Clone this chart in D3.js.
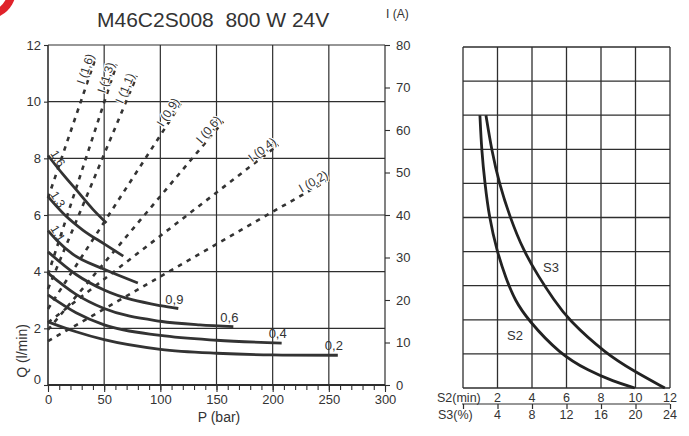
<!DOCTYPE html>
<html><head><meta charset="utf-8">
<script src="https://cdn.jsdelivr.net/npm/d3@7"></script>
<style>body{margin:0;background:#fff}svg{display:block;font-family:"Liberation Sans",Arial,sans-serif}</style>
</head><body><svg id="c" width="689" height="436"></svg>
<script>
// ---------- data ----------
const pTicks = [0, 50, 100, 150, 200, 250, 300];
const pMinor = [0,10,20,30,40,50,60,70,80,90,100,110,120,130,140,150,160,170,180,190,200,210,220,230,240,250,260,270,280,290,300];
const qTicks = [0, 2, 4, 6, 8, 10, 12];
const iTicks = [0, 10, 20, 30, 40, 50, 60, 70, 80];
const openings = ["1,6", "1,3", "1,1", "0,9", "0,6", "0,4", "0,2"];
// Q (l/min) vs P (bar)
const flow_1_6 = [[0,8.1],[13,7.45],[26,6.85],[40,6.2],[52,5.72]];
const flow_1_3 = [[0,6.65],[15,6.0],[31,5.47],[50,4.98],[67,4.55]];
const flow_1_1 = [[0,5.45],[8,5.1],[22,4.62],[49,4.1],[80,3.6]];
const flow_0_9 = [[0,4.7],[25,3.9],[50,3.35],[100,2.8],[116,2.7]];
const flow_0_6 = [[0,3.95],[25,3.2],[50,2.7],[100,2.25],[135,2.12],[165,2.06]];
const flow_0_4 = [[0,3.18],[25,2.55],[50,2.12],[100,1.75],[150,1.58],[208,1.48]];
const flow_0_2 = [[0,2.23],[25,1.88],[50,1.6],[100,1.26],[150,1.12],[200,1.06],[258,1.05]];
// I (A) vs P (bar)
const current_1_6 = [[0,44],[43,77.4]];
const current_1_3 = [[0,26],[61,75.4]];
const current_1_1 = [[0,22.6],[79,72.7]];
const current_0_9 = [[0,17.9],[119,66.5]];
const current_0_6 = [[0,13],[156,62]];
const current_0_4 = [[0,14.7],[205,56.5]];
const current_0_2 = [[0,10.3],[251,48.5]];
// duty chart
const s2Ticks = [0, 2, 4, 6, 8, 10, 12];
const s3Ticks = [0, 4, 8, 12, 16, 20, 24];
const dutyRows = [0,1,2,3,4,5,6,7,8,9,10];
const s2Min = [0.98,1.08,1.27,1.52,1.95,2.5,3.01,3.76,5.6,7.3,8.7,9.96];
const s2Row = [8,6.97,5.99,5.01,4.04,3.2,2.57,2.0,1.0,0.5,0.2,0];
const s3Min = [1.33,1.66,2.1,2.72,3.49,4.4,5.25,6.1,8.3,9.9,11.7];
const s3Row = [8,6.97,5.99,5.01,4.04,3.25,2.6,2.0,1.0,0.5,0];

const flows = [flow_1_6, flow_1_3, flow_1_1, flow_0_9, flow_0_6, flow_0_4, flow_0_2];
const currents = [current_1_6, current_1_3, current_1_1, current_0_9, current_0_6, current_0_4, current_0_2];

// ---------- drawing ----------
const ink = "#2e2e2e";
const svg = d3.select("#c");

// logo arc
svg.append("path")
  .attr("transform", "translate(-13,-10)")
  .attr("d", d3.arc()({innerRadius: 21, outerRadius: 29, startAngle: Math.PI/3, endAngle: Math.PI}))
  .attr("fill", "#e0222a");

// title
svg.append("text").attr("x", 97).attr("y", 27).attr("font-size", 21).attr("fill", "#333")
  .style("white-space", "pre").attr("xml:space", "preserve")
  .text("M46C2S008  800 W 24V");
svg.append("text").attr("x", 386).attr("y", 18).attr("font-size", 12).attr("fill", "#333").text("I (A)");

const x = d3.scaleLinear().domain([0, 300]).range([48, 385]);
const y = d3.scaleLinear().domain([0, 12]).range([385, 45]);
const yI = d3.scaleLinear().domain([0, 80]).range([385, 45]);

const g = svg.append("g");
// grid
g.selectAll(".gv").data(pTicks).join("line")
  .attr("x1", d => x(d)).attr("x2", d => x(d)).attr("y1", y(12)).attr("y2", y(0))
  .attr("stroke", ink).attr("stroke-width", d => (d === 0 ? 1.6 : 1.2));
g.selectAll(".gh").data(qTicks).join("line")
  .attr("x1", x(0)).attr("x2", x(300)).attr("y1", d => y(d)).attr("y2", d => y(d))
  .attr("stroke", ink).attr("stroke-width", d => (d === 0 ? 1.8 : 1.2));

// axes
function styleAxis(sel) {
  sel.select(".domain").remove();
  sel.selectAll("line").attr("stroke", ink).attr("stroke-width", 1.1);
  sel.selectAll("text").attr("fill", "#333").attr("font-size", 13).attr("font-family", "Liberation Sans, Arial, sans-serif");
}
g.append("g").attr("transform", `translate(0,${y(0)})`)
  .call(d3.axisBottom(x).tickValues(pMinor).tickSize(5).tickFormat(""))
  .call(styleAxis);
g.append("g").attr("transform", `translate(0,${y(0)})`)
  .call(d3.axisBottom(x).tickValues(pTicks).tickSize(7).tickPadding(3).tickFormat(d3.format("d")))
  .call(styleAxis);
const ya = g.append("g").attr("transform", `translate(${x(0)},0)`)
  .call(d3.axisLeft(y).tickValues(qTicks).tickSize(4).tickPadding(3).tickFormat(d3.format("d")))
  .call(styleAxis);
ya.selectAll(".tick").filter(d => d === 0).select("text").attr("dy", "-0.1em");
g.append("g").attr("transform", `translate(${x(300)},0)`)
  .call(d3.axisRight(yI).tickValues(iTicks).tickSize(5).tickPadding(6).tickFormat(d3.format("d")))
  .call(styleAxis);

// axis titles
svg.append("text").attr("transform", `translate(27,351) rotate(-90)`).attr("text-anchor", "middle")
  .attr("font-size", 14).attr("fill", "#333").text("Q (l/min)");
svg.append("text").attr("x", 219).attr("y", 422).attr("text-anchor", "middle")
  .attr("font-size", 14).attr("fill", "#333").text("P (bar)");

// dashed current lines
const lineI = d3.line().x(d => x(d[0])).y(d => yI(d[1]));
currents.forEach((c, i) => {
  g.append("path").attr("d", lineI(c)).attr("fill", "none").attr("stroke", "#333")
    .attr("stroke-width", 2.6).attr("stroke-dasharray", "4.5,5.5");
});
currents.forEach((c, i) => {
  const a = c[0], b = c[c.length - 1];
  const x1 = x(a[0]), y1 = yI(a[1]), x2 = x(b[0]), y2 = yI(b[1]);
  const ang = Math.atan2(y2 - y1, x2 - x1) * 180 / Math.PI;
  svg.append("text").attr("transform", `translate(${x2},${y2}) rotate(${ang})`)
    .attr("text-anchor", "end").attr("dy", -2).attr("font-size", 12).attr("fill", "#333")
    .attr("stroke", "#fff").attr("stroke-width", 2).attr("paint-order", "stroke")
    .text("I (" + openings[i] + ")");
});

// solid flow curves
const lineQ = d3.line().x(d => x(d[0])).y(d => y(d[1])).curve(d3.curveMonotoneX);
flows.forEach(f => {
  g.append("path").attr("d", lineQ(f)).attr("fill", "none").attr("stroke", "#333")
    .attr("stroke-width", 2.8).attr("stroke-linecap", "butt");
});
flows.forEach((f, i) => {
  if (i < 3) {
    const s = f[0];
    svg.append("text").attr("transform", `translate(${x(s[0]) + 2},${y(s[1]) - 2}) rotate(58)`)
      .attr("font-size", 12).attr("fill", "#333").text(openings[i]);
  } else {
    const e = f[f.length - 1];
    svg.append("text").attr("x", x(e[0]) - 13).attr("y", y(e[1]) - 5)
      .attr("font-size", 13).attr("fill", "#333").text(openings[i]);
  }
});

// ---------- duty chart ----------
const xs = d3.scaleLinear().domain([0, 12]).range([463, 670]);
const xs3 = d3.scaleLinear().domain([0, 24]).range([463, 670]);
const yr = d3.scaleLinear().domain([0, 10]).range([388, 47]);
const r = svg.append("g");
r.selectAll(".v").data(s2Ticks).join("line")
  .attr("x1", d => xs(d)).attr("x2", d => xs(d)).attr("y1", yr(10)).attr("y2", yr(0))
  .attr("stroke", ink).attr("stroke-width", 1.3);
r.selectAll(".h").data(dutyRows).join("line")
  .attr("x1", xs(0)).attr("x2", xs(12)).attr("y1", d => yr(d)).attr("y2", d => yr(d))
  .attr("stroke", ink).attr("stroke-width", 1.3);
const lineD = d3.line().x(d => xs(d[0])).y(d => yr(d[1])).curve(d3.curveBasis);
r.append("path").attr("d", lineD(s2Min.map((m, i) => [m, s2Row[i]]))).attr("fill", "none")
  .attr("stroke", "#222").attr("stroke-width", 2.8);
r.append("path").attr("d", lineD(s3Min.map((m, i) => [m, s3Row[i]]))).attr("fill", "none")
  .attr("stroke", "#222").attr("stroke-width", 2.8);
r.append("text").attr("x", 543).attr("y", 272).attr("font-size", 13).attr("fill", "#333").text("S3");
r.append("text").attr("x", 507).attr("y", 340).attr("font-size", 13).attr("fill", "#333").text("S2");

// dual bottom axis
const axY = 404;
const ax = r.append("g").attr("transform", `translate(0,${axY})`)
  .call(d3.axisBottom(xs).tickValues(s2Ticks).tickSize(5).tickFormat(""));
ax.select(".domain").attr("stroke", ink).attr("stroke-width", 1.2).attr("d", `M${xs(0) - 1},0H${xs(12)}`);
ax.selectAll("line").attr("stroke", ink).attr("stroke-width", 1.2);
r.selectAll(".s2l").data(s2Ticks.filter(d => d > 0)).join("text")
  .attr("x", d => xs(d)).attr("y", 402).attr("text-anchor", "middle")
  .attr("font-size", 12.5).attr("fill", "#333").text(d => d);
r.selectAll(".s3l").data(s3Ticks.filter(d => d > 0)).join("text")
  .attr("x", d => xs3(d)).attr("y", 419).attr("text-anchor", "middle")
  .attr("font-size", 12.5).attr("fill", "#333").text(d => d);
r.append("text").attr("x", 437).attr("y", 402).attr("font-size", 12.5).attr("fill", "#333").text("S2(min)");
r.append("text").attr("x", 438).attr("y", 419).attr("font-size", 12.5).attr("fill", "#333").text("S3(%)");
</script></body></html>
